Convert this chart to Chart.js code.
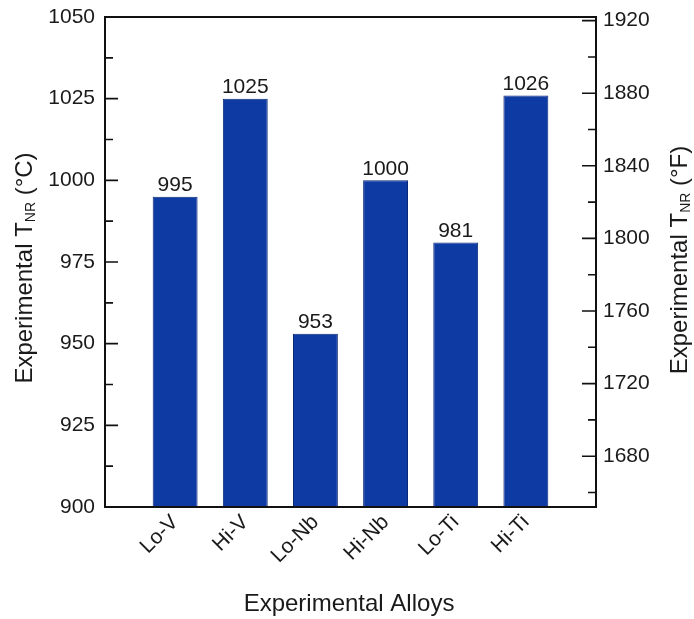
<!DOCTYPE html>
<html>
<head>
<meta charset="utf-8">
<script src="https://cdn.jsdelivr.net/npm/chart.js@4/dist/chart.umd.min.js"></script>
<style>
  html, body { margin: 0; padding: 0; background: #fff; }
  #wrap { width: 694px; height: 619px; }
</style>
</head>
<body>
<div id="wrap"><canvas id="tnrChart" width="694" height="619"></canvas></div>
<script>
// data
const alloys = ["Lo-V", "Hi-V", "Lo-Nb", "Hi-Nb", "Lo-Ti", "Hi-Ti"];
const tnrC = [995, 1025, 953, 1000, 981, 1026];
const celsiusTicks = [900, 925, 950, 975, 1000, 1025, 1050];
const fahrenheitTicks = [1680, 1720, 1760, 1800, 1840, 1880, 1920];

const FONT = "'Liberation Sans', Arial, Helvetica, sans-serif";
const toF = c => c * 9 / 5 + 32;

// bars sit on positions 1..6 of a 0..7 axis
const points = alloys.map((name, i) => ({ x: i + 1, y: tnrC[i] }));

// frame, inward ticks, value labels and axis titles
const decorations = {
    id: "decorations",
    afterDatasetsDraw(chart) {
        const ctx = chart.ctx;
        const area = chart.chartArea;
        const yC = chart.scales.y;
        const yF = chart.scales.y2;

        // value labels above bars
        ctx.save();
        ctx.fillStyle = "#1a1a1a";
        ctx.font = "21px " + FONT;
        ctx.textAlign = "center";
        ctx.textBaseline = "bottom";
        chart.getDatasetMeta(0).data.forEach((bar, i) => {
            ctx.fillText(String(tnrC[i]), bar.x, bar.y - 1);
        });
        ctx.restore();

        ctx.save();
        ctx.strokeStyle = "#111";
        ctx.lineWidth = 2;
        ctx.strokeRect(area.left, area.top, area.right - area.left, area.bottom - area.top);

        ctx.lineWidth = 1.6;
        ctx.beginPath();
        // left axis ticks (major every 25, minor in between)
        celsiusTicks.forEach((v, i) => {
            const py = yC.getPixelForValue(v);
            ctx.moveTo(area.left, py);
            ctx.lineTo(area.left + 13, py);
            if (i < celsiusTicks.length - 1) {
                const pm = yC.getPixelForValue(v + 12.5);
                ctx.moveTo(area.left, pm);
                ctx.lineTo(area.left + 8, pm);
            }
        });
        // right axis ticks (major every 40, minor in between)
        fahrenheitTicks.forEach((v, i) => {
            const py = yF.getPixelForValue(v);
            ctx.moveTo(area.right, py);
            ctx.lineTo(area.right - 14, py);
            const pm = yF.getPixelForValue(v - 20);
            ctx.moveTo(area.right, pm);
            ctx.lineTo(area.right - 8, pm);
        });
        ctx.stroke();
        ctx.restore();

        const midY = (area.top + area.bottom) / 2;
        drawSubTitle(ctx, 25, midY + 6, -Math.PI / 2, "Experimental T", "NR", " (\u00B0C)");
        drawSubTitle(ctx, 680, midY - 2, -Math.PI / 2, "Experimental T", "NR", " (\u00B0F)");

        ctx.save();
        ctx.fillStyle = "#1a1a1a";
        ctx.font = "24px " + FONT;
        ctx.textAlign = "center";
        ctx.textBaseline = "middle";
        ctx.fillText("Experimental Alloys", 349, 604);
        ctx.restore();
    }
};

function drawSubTitle(ctx, x, y, angle, main, sub, tail) {
    const big = "24px " + FONT;
    const small = "14px " + FONT;
    ctx.save();
    ctx.translate(x, y);
    ctx.rotate(angle);
    ctx.fillStyle = "#1a1a1a";
    ctx.textBaseline = "middle";
    ctx.textAlign = "left";
    ctx.font = big;
    const w1 = ctx.measureText(main).width;
    const w3 = ctx.measureText(tail).width;
    ctx.font = small;
    const w2 = ctx.measureText(sub).width;
    let cx = -(w1 + w2 + w3) / 2;
    ctx.font = big;
    ctx.fillText(main, cx, 0);
    cx += w1;
    ctx.font = small;
    ctx.fillText(sub, cx, 6);
    cx += w2;
    ctx.font = big;
    ctx.fillText(tail, cx, 0);
    ctx.restore();
}

new Chart(document.getElementById("tnrChart"), {
    type: "bar",
    data: {
        datasets: [{
            data: points,
            backgroundColor: "#0e3aa4",
            borderColor: "#0a2878",
            borderWidth: 1,
            barPercentage: 0.64,
            categoryPercentage: 1
        }]
    },
    options: {
        responsive: false,
        animation: false,
        layout: { padding: { top: 17, left: 0, right: 0, bottom: 0 } },
        plugins: {
            legend: { display: false },
            tooltip: { enabled: false }
        },
        scales: {
            x: {
                type: "linear",
                offset: false,
                min: 0,
                max: 7,
                afterBuildTicks: scale => {
                    scale.ticks = alloys.map((n, i) => ({ value: i + 1 }));
                },
                afterFit: scale => {
                    scale.height = 112;
                    scale.paddingLeft = 0;
                    scale.paddingRight = 0;
                },
                grid: { display: false, drawTicks: false },
                border: { display: false },
                ticks: {
                    autoSkip: false,
                    maxRotation: 45,
                    minRotation: 45,
                    padding: 3,
                    color: "#1a1a1a",
                    font: { family: FONT, size: 21 },
                    callback: v => alloys[v - 1] || ""
                }
            },
            y: {
                position: "left",
                min: 900,
                max: 1050,
                afterBuildTicks: scale => {
                    scale.ticks = celsiusTicks.map(v => ({ value: v }));
                },
                afterFit: scale => {
                    scale.width = 105;
                    scale.paddingTop = 0;
                    scale.paddingBottom = 0;
                },
                grid: { display: false, drawTicks: false },
                border: { display: false },
                ticks: {
                    padding: 10,
                    color: "#1a1a1a",
                    font: { family: FONT, size: 21 },
                    callback: v => String(v)
                }
            },
            y2: {
                position: "right",
                min: toF(900),
                max: toF(1050),
                afterBuildTicks: scale => {
                    scale.ticks = fahrenheitTicks.map(v => ({ value: v }));
                },
                afterFit: scale => {
                    scale.width = 98;
                    scale.paddingTop = 0;
                    scale.paddingBottom = 0;
                },
                grid: { display: false, drawTicks: false },
                border: { display: false },
                ticks: {
                    padding: 7,
                    color: "#1a1a1a",
                    font: { family: FONT, size: 21 },
                    callback: v => String(v)
                }
            }
        }
    },
    plugins: [decorations]
});
</script>
</body>
</html>
